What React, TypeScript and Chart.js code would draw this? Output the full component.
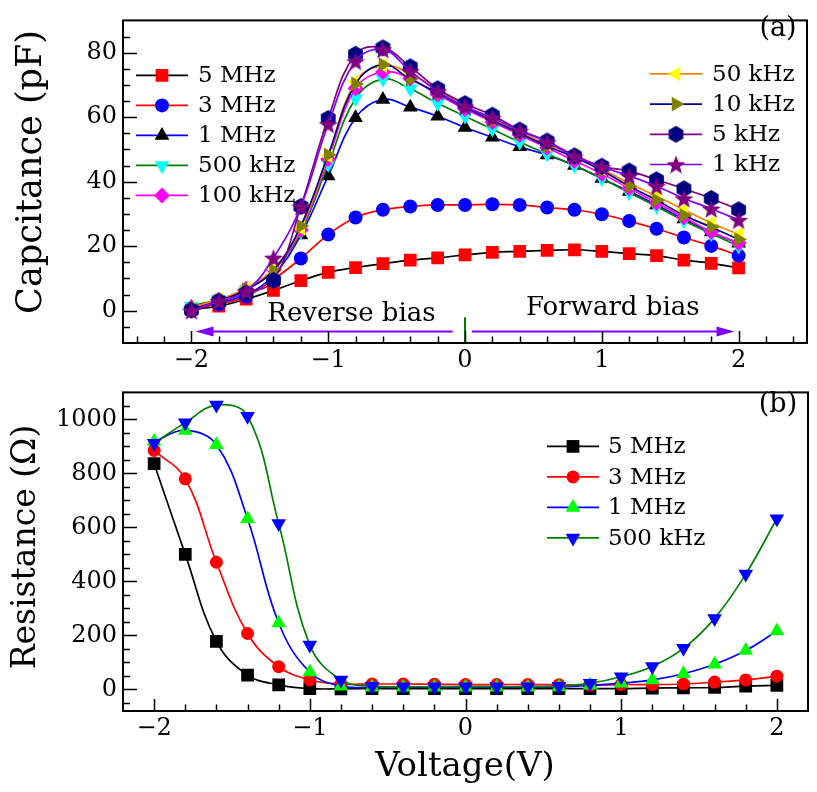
import React, { useEffect, useRef } from 'react';
import { Chart, registerables } from 'chart.js';
import { drawPoint } from 'chart.js/helpers';

Chart.register(...registerables);

// ---------------- data ----------------
const VOLTAGE = [-2, -1.8, -1.6, -1.4, -1.2, -1, -0.8, -0.6, -0.4, -0.2, 0, 0.2, 0.4, 0.6, 0.8, 1, 1.2, 1.4, 1.6, 1.8, 2];

// panel (a): capacitance (pF)
const CAP_5MHZ = [0.4, 1.4, 3.6, 6.3, 9.3, 11.9, 13.4, 14.6, 15.7, 16.4, 17.3, 18.1, 18.4, 18.7, 18.9, 18.4, 17.7, 17.1, 15.7, 14.7, 13.3];
const CAP_3MHZ = [0.5, 2.0, 4.4, 9.7, 16.2, 23.6, 28.9, 31.3, 32.3, 32.8, 32.8, 33.0, 32.8, 32.0, 31.3, 29.9, 27.8, 25.4, 22.7, 20.1, 17.1];
const CAP_1MHZ = [1.0, 2.5, 5.0, 11.0, 23.5, 41.8, 59.8, 65.5, 63.1, 60.3, 56.8, 53.8, 50.8, 48.3, 45.0, 41.0, 37.0, 32.8, 28.4, 24.4, 20.9];
const CAP_500KHZ = [1.5, 3.5, 6.5, 12.5, 24.5, 45.4, 65.8, 71.8, 68.8, 64.3, 60.3, 56.3, 52.3, 48.6, 45.0, 41.0, 36.6, 32.3, 27.9, 23.9, 20.1];
const CAP_100KHZ = [1.0, 3.3, 6.8, 12.8, 25.0, 47.0, 69.0, 74.0, 72.0, 67.0, 62.5, 58.5, 54.5, 50.5, 46.5, 42.5, 38.0, 33.5, 29.0, 24.5, 21.0];
const CAP_50KHZ = [1.0, 3.5, 7.0, 13.0, 25.5, 48.0, 71.0, 76.0, 73.5, 68.5, 63.5, 59.5, 55.5, 51.5, 48.4, 44.0, 39.5, 35.5, 31.3, 27.2, 23.7];
const CAP_10KHZ = [0.5, 3.0, 6.5, 12.5, 26.3, 48.3, 70.3, 76.3, 71.8, 67.5, 63.0, 59.0, 55.0, 51.0, 47.6, 43.5, 38.6, 34.3, 29.6, 25.9, 22.1];
const CAP_5KHZ = [0.2, 3.0, 5.5, 9.4, 32.3, 59.6, 79.5, 81.5, 75.6, 68.8, 64.2, 60.6, 56.0, 52.6, 48.0, 44.8, 43.3, 40.6, 37.8, 34.8, 31.3];
const CAP_1KHZ = [0.0, 3.0, 6.0, 16.4, 32.3, 57.8, 77.3, 81.0, 74.3, 68.0, 63.3, 59.8, 55.8, 52.3, 47.8, 44.6, 41.8, 38.6, 34.8, 31.6, 28.1];

// panel (b): resistance (ohm)
const RES_5MHZ = [836, 500, 178, 53, 17, 3, 2, 3, 3, 3, 3, 3, 3, 3, 3, 3, 5, 6, 7, 12, 15];
const RES_3MHZ = [885, 780, 471, 207, 84, 35, 20, 20, 20, 19, 18, 18, 18, 17, 16, 18, 18, 20, 27, 35, 49];
const RES_1MHZ = [918, 959, 906, 632, 246, 64, 12, 8, 8, 8, 8, 8, 8, 9, 15, 23, 35, 58, 93, 144, 216];
const RES_500KHZ = [912, 988, 1053, 1012, 614, 164, 35, 12, 10, 10, 10, 10, 10, 12, 23, 47, 85, 152, 263, 427, 632];

// tick labels
const X_TICKS = [-2, -1, 0, 1, 2];
const CAP_TICKS = [0, 20, 40, 60, 80];
const RES_TICKS = [0, 200, 400, 600, 800, 1000];

// annotation anchors in data units (panel a)
const REVERSE_TEXT = { x: -0.83, y: -1.0 };
const FORWARD_TEXT = { x: 1.08, y: 0.9 };
const ARROW_Y = -6.4;
const LEFT_ARROW = [-0.09, -1.97];
const RIGHT_ARROW = [0.05, 1.97];
const ZERO_MARK = { x: 0, y: -2 };

// ---------------- styling helpers ----------------
const FONT = '"DejaVu Serif", "Liberation Serif", serif';

function makeHexagon(color: string, r: number) {
  const c = document.createElement('canvas');
  const s = Math.ceil(r * 2 + 2);
  c.width = s;
  c.height = s;
  const g = c.getContext('2d')!;
  g.fillStyle = color;
  g.beginPath();
  for (let i = 0; i < 6; i++) {
    const a = (Math.PI / 3) * i - Math.PI / 2;
    const px = s / 2 + r * Math.cos(a);
    const py = s / 2 + r * Math.sin(a);
    if (i === 0) g.moveTo(px, py);
    else g.lineTo(px, py);
  }
  g.closePath();
  g.fill();
  return c;
}

function makeStar(color: string, r: number) {
  const c = document.createElement('canvas');
  const s = Math.ceil(r * 2 + 2);
  c.width = s;
  c.height = s;
  const g = c.getContext('2d')!;
  g.fillStyle = color;
  g.beginPath();
  for (let i = 0; i < 10; i++) {
    const a = (Math.PI / 5) * i - Math.PI / 2;
    const rr = i % 2 === 0 ? r : r * 0.42;
    const px = s / 2 + rr * Math.cos(a);
    const py = s / 2 + 1 + rr * Math.sin(a);
    if (i === 0) g.moveTo(px, py);
    else g.lineTo(px, py);
  }
  g.closePath();
  g.fill();
  return c;
}

const fmt = (v: number) => (v < 0 ? '\u2212' + Math.abs(v) : String(v));

function range(from: number, to: number, step: number) {
  const out: number[] = [];
  const n = Math.round((to - from) / step);
  for (let i = 0; i <= n; i++) out.push(+(from + i * step).toFixed(6));
  return out;
}

// ---------------- plugin ----------------
const panelPlugin = {
  id: 'panel',
  afterDatasetsDraw(chart: any, _args: any, o: any) {
    const { ctx, chartArea: a } = chart;
    const xs = chart.scales.x;
    const ys = chart.scales.y;
    ctx.save();

    if (o.annotate) o.annotate(chart, ctx);

    // legend
    for (const e of o.legend || []) {
      const ds = chart.data.datasets[e.index];
      const yy = a.top + e.top;
      ctx.strokeStyle = ds.borderColor;
      ctx.lineWidth = ds.borderWidth;
      ctx.beginPath();
      ctx.moveTo(a.left + e.x0, yy);
      ctx.lineTo(a.left + e.x1, yy);
      ctx.stroke();
      ctx.fillStyle = ds.pointBackgroundColor;
      drawPoint(
        ctx,
        { pointStyle: ds.pointStyle, rotation: ds.pointRotation || 0, radius: ds.pointRadius, borderWidth: 0 } as any,
        a.left + (e.x0 + e.x1) / 2,
        yy
      );
      ctx.fillStyle = '#000';
      ctx.font = o.legendFont;
      ctx.textAlign = 'left';
      ctx.textBaseline = 'middle';
      ctx.fillText(ds.label, a.left + e.text, yy + 1);
    }

    // ticks (inward)
    ctx.strokeStyle = '#000';
    ctx.lineWidth = 1.5;
    ctx.beginPath();
    for (const v of o.xMinor) {
      const px = Math.round(xs.getPixelForValue(v)) + 0.5;
      const len = o.xMajor.includes(v) ? 12 : 6.5;
      ctx.moveTo(px, a.bottom);
      ctx.lineTo(px, a.bottom - len);
    }
    for (const v of o.yMinor) {
      const py = Math.round(ys.getPixelForValue(v)) + 0.5;
      const len = o.yMajor.includes(v) ? 14 : 7;
      ctx.moveTo(a.left, py);
      ctx.lineTo(a.left + len, py);
    }
    ctx.stroke();

    // frame
    ctx.lineWidth = 2;
    ctx.strokeRect(a.left, a.top, a.right - a.left, a.bottom - a.top);

    // panel tag
    ctx.fillStyle = '#000';
    ctx.font = `27px ${FONT}`;
    ctx.textAlign = 'center';
    ctx.textBaseline = 'middle';
    ctx.fillText(o.tag.text, o.tag.x, o.tag.y);

    // y title
    ctx.save();
    ctx.translate(o.yTitle.x, o.yTitle.y);
    ctx.rotate(-Math.PI / 2);
    ctx.font = o.yTitle.font;
    ctx.textAlign = 'center';
    ctx.textBaseline = 'alphabetic';
    ctx.fillText(o.yTitle.text, 0, 0);
    ctx.restore();

    if (o.xTitle) {
      ctx.font = o.xTitle.font;
      ctx.textAlign = 'center';
      ctx.textBaseline = 'alphabetic';
      ctx.fillText(o.xTitle.text, o.xTitle.x, o.xTitle.y);
    }
    ctx.restore();
  },
};

function ds(label: string, values: number[], line: string, fill: string, style: any, radius: number, rotation = 0, order = 0) {
  return {
    label,
    data: VOLTAGE.map((x, i) => ({ x, y: values[i] })),
    borderColor: line,
    borderWidth: 1.7,
    tension: 0.4,
    pointStyle: style,
    pointRadius: radius,
    pointHoverRadius: radius,
    pointRotation: rotation,
    pointBackgroundColor: fill,
    pointBorderColor: fill,
    pointBorderWidth: 0,
    order,
  };
}

function axes(xMin: number, xMax: number, yMin: number, yMax: number, yTicks: number[], xH: number) {
  return {
    x: {
      type: 'linear',
      min: xMin,
      max: xMax,
      grid: { display: false, drawTicks: false },
      border: { display: false },
      ticks: { font: { family: FONT, size: 24 }, color: '#000', padding: 3, maxRotation: 0, autoSkip: false, callback: (v: number) => fmt(v) },
      afterBuildTicks: (s: any) => { s.ticks = X_TICKS.map((v) => ({ value: v })); },
      afterFit: (s: any) => { s.height = xH; },
    },
    y: {
      type: 'linear',
      min: yMin,
      max: yMax,
      grid: { display: false, drawTicks: false },
      border: { display: false },
      ticks: { font: { family: FONT, size: 24 }, color: '#000', padding: 6, autoSkip: false, callback: (v: number) => fmt(v) },
      afterBuildTicks: (s: any) => { s.ticks = yTicks.map((v) => ({ value: v })); },
      afterFit: (s: any) => { s.width = 123; },
    },
  };
}

function buildTop(canvas: HTMLCanvasElement) {
  const hex = makeHexagon('#000080', 8.5);
  const star = makeStar('#800080', 10);
  const datasets = [
    ds('5 MHz', CAP_5MHZ, '#000000', '#ff0000', 'rect', 9, 0, 9),
    ds('3 MHz', CAP_3MHZ, '#ff0000', '#0000ff', 'circle', 7, 0, 8),
    ds('1 MHz', CAP_1MHZ, '#0000ff', '#000000', 'triangle', 8.5, 0, 7),
    ds('500 kHz', CAP_500KHZ, '#008000', '#00ffff', 'triangle', 8.5, 180, 6),
    ds('100 kHz', CAP_100KHZ, '#ff00ff', '#ff00ff', 'rectRot', 8, 0, 5),
    ds('50 kHz', CAP_50KHZ, '#ff8000', '#ffff00', 'triangle', 8.5, 270, 4),
    ds('10 kHz', CAP_10KHZ, '#000080', '#808000', 'triangle', 8.5, 90, 3),
    ds('5 kHz', CAP_5KHZ, '#800080', '#000080', hex, 8.5, 0, 2),
    ds('1 kHz', CAP_1KHZ, '#8000ff', '#800080', star, 10, 0, 1),
  ];
  const legend = [
    ...[0, 1, 2, 3, 4].map((i, k) => ({ index: i, x0: 13, x1: 65, text: 75, top: 55 + k * 30 })),
    ...[5, 6, 7, 8].map((i, k) => ({ index: i, x0: 527, x1: 579, text: 589, top: 53.5 + k * 30.2 })),
  ];
  const annotate = (chart: any, ctx: CanvasRenderingContext2D) => {
    const xs = chart.scales.x;
    const ys = chart.scales.y;
    ctx.fillStyle = '#000';
    ctx.font = `26px ${FONT}`;
    ctx.textAlign = 'center';
    ctx.textBaseline = 'middle';
    ctx.fillText('Reverse bias', xs.getPixelForValue(REVERSE_TEXT.x), ys.getPixelForValue(REVERSE_TEXT.y));
    ctx.fillText('Forward bias', xs.getPixelForValue(FORWARD_TEXT.x), ys.getPixelForValue(FORWARD_TEXT.y));
    const ay = ys.getPixelForValue(ARROW_Y);
    const arrow = (from: number, to: number) => {
      const x0 = xs.getPixelForValue(from);
      const x1 = xs.getPixelForValue(to);
      const dir = Math.sign(x1 - x0);
      ctx.strokeStyle = '#8000ff';
      ctx.fillStyle = '#8000ff';
      ctx.lineWidth = 2;
      ctx.beginPath();
      ctx.moveTo(x0, ay);
      ctx.lineTo(x1 - dir * 10, ay);
      ctx.stroke();
      ctx.beginPath();
      ctx.moveTo(x1, ay);
      ctx.lineTo(x1 - dir * 18, ay - 5);
      ctx.lineTo(x1 - dir * 18, ay + 5);
      ctx.closePath();
      ctx.fill();
    };
    arrow(LEFT_ARROW[0], LEFT_ARROW[1]);
    arrow(RIGHT_ARROW[0], RIGHT_ARROW[1]);
    ctx.strokeStyle = '#008000';
    ctx.lineWidth = 2;
    ctx.beginPath();
    const zx = xs.getPixelForValue(ZERO_MARK.x);
    ctx.moveTo(zx, ys.getPixelForValue(ZERO_MARK.y));
    ctx.lineTo(zx, chart.chartArea.bottom);
    ctx.stroke();
  };
  return new Chart(canvas, {
    type: 'line',
    data: { datasets } as any,
    plugins: [panelPlugin],
    options: {
      animation: false,
      responsive: false,
      devicePixelRatio: 1,
      events: [],
      layout: { padding: { top: 9, right: 9, left: 0, bottom: 0 } },
      plugins: {
        legend: { display: false },
        tooltip: { enabled: false },
        panel: {
          legend,
          legendFont: `23px ${FONT}`,
          annotate,
          xMajor: X_TICKS,
          xMinor: range(-2.4, 2.4, 0.2),
          yMajor: CAP_TICKS,
          yMinor: range(-5, 85, 5),
          tag: { text: '(a)', x: 778, y: 29 },
          yTitle: { text: 'Capcitance (pF)', x: 41, y: 172, font: `35px ${FONT}` },
        },
      } as any,
      scales: axes(-2.5, 2.5, -10, 90, CAP_TICKS, 29) as any,
    },
  });
}

function buildBottom(canvas: HTMLCanvasElement) {
  const datasets = [
    ds('5 MHz', RES_5MHZ, '#000000', '#000000', 'rect', 9, 0, 4),
    ds('3 MHz', RES_3MHZ, '#ff0000', '#ff0000', 'circle', 6.5, 0, 3),
    ds('1 MHz', RES_1MHZ, '#0000ff', '#00ff00', 'triangle', 8.5, 0, 2),
    ds('500 kHz', RES_500KHZ, '#008000', '#0000ff', 'triangle', 8.5, 180, 1),
  ];
  const legend = [0, 1, 2, 3].map((i, k) => ({ index: i, x0: 424, x1: 476, text: 485, top: 54 + k * 30.5 }));
  return new Chart(canvas, {
    type: 'line',
    data: { datasets } as any,
    plugins: [panelPlugin],
    options: {
      animation: false,
      responsive: false,
      devicePixelRatio: 1,
      events: [],
      layout: { padding: { top: 5, right: 9, left: 0, bottom: 0 } },
      plugins: {
        legend: { display: false },
        tooltip: { enabled: false },
        panel: {
          legend,
          legendFont: `23px ${FONT}`,
          xMajor: X_TICKS,
          xMinor: range(-2, 2, 0.2),
          yMajor: RES_TICKS,
          yMinor: range(-50, 1050, 50),
          tag: { text: '(b)', x: 778, y: 33 },
          yTitle: { text: 'Resistance (\u03A9)', x: 35, y: 175, font: `33px ${FONT}` },
          xTitle: { text: 'Voltage(V)', x: 465, y: 404, font: `34px ${FONT}` },
        },
      } as any,
      scales: axes(-2.2, 2.2, -80, 1100, RES_TICKS, 81) as any,
    },
  });
}

function Panel({ build, top, height }: { build: (c: HTMLCanvasElement) => Chart; top: number; height: number }) {
  const ref = useRef<HTMLCanvasElement>(null);
  useEffect(() => {
    const chart = build(ref.current!);
    return () => chart.destroy();
  }, [build]);
  return (
    <canvas
      ref={ref}
      width={817}
      height={height}
      style={{ position: 'absolute', left: 0, top, width: 817, height }}
    />
  );
}

export default function App() {
  return (
    <div style={{ position: 'absolute', left: 0, top: 0, width: 817, height: 792, background: '#fff' }}>
      <Panel build={buildTop} top={0} height={372} />
      <Panel build={buildBottom} top={372} height={420} />
    </div>
  );
}
